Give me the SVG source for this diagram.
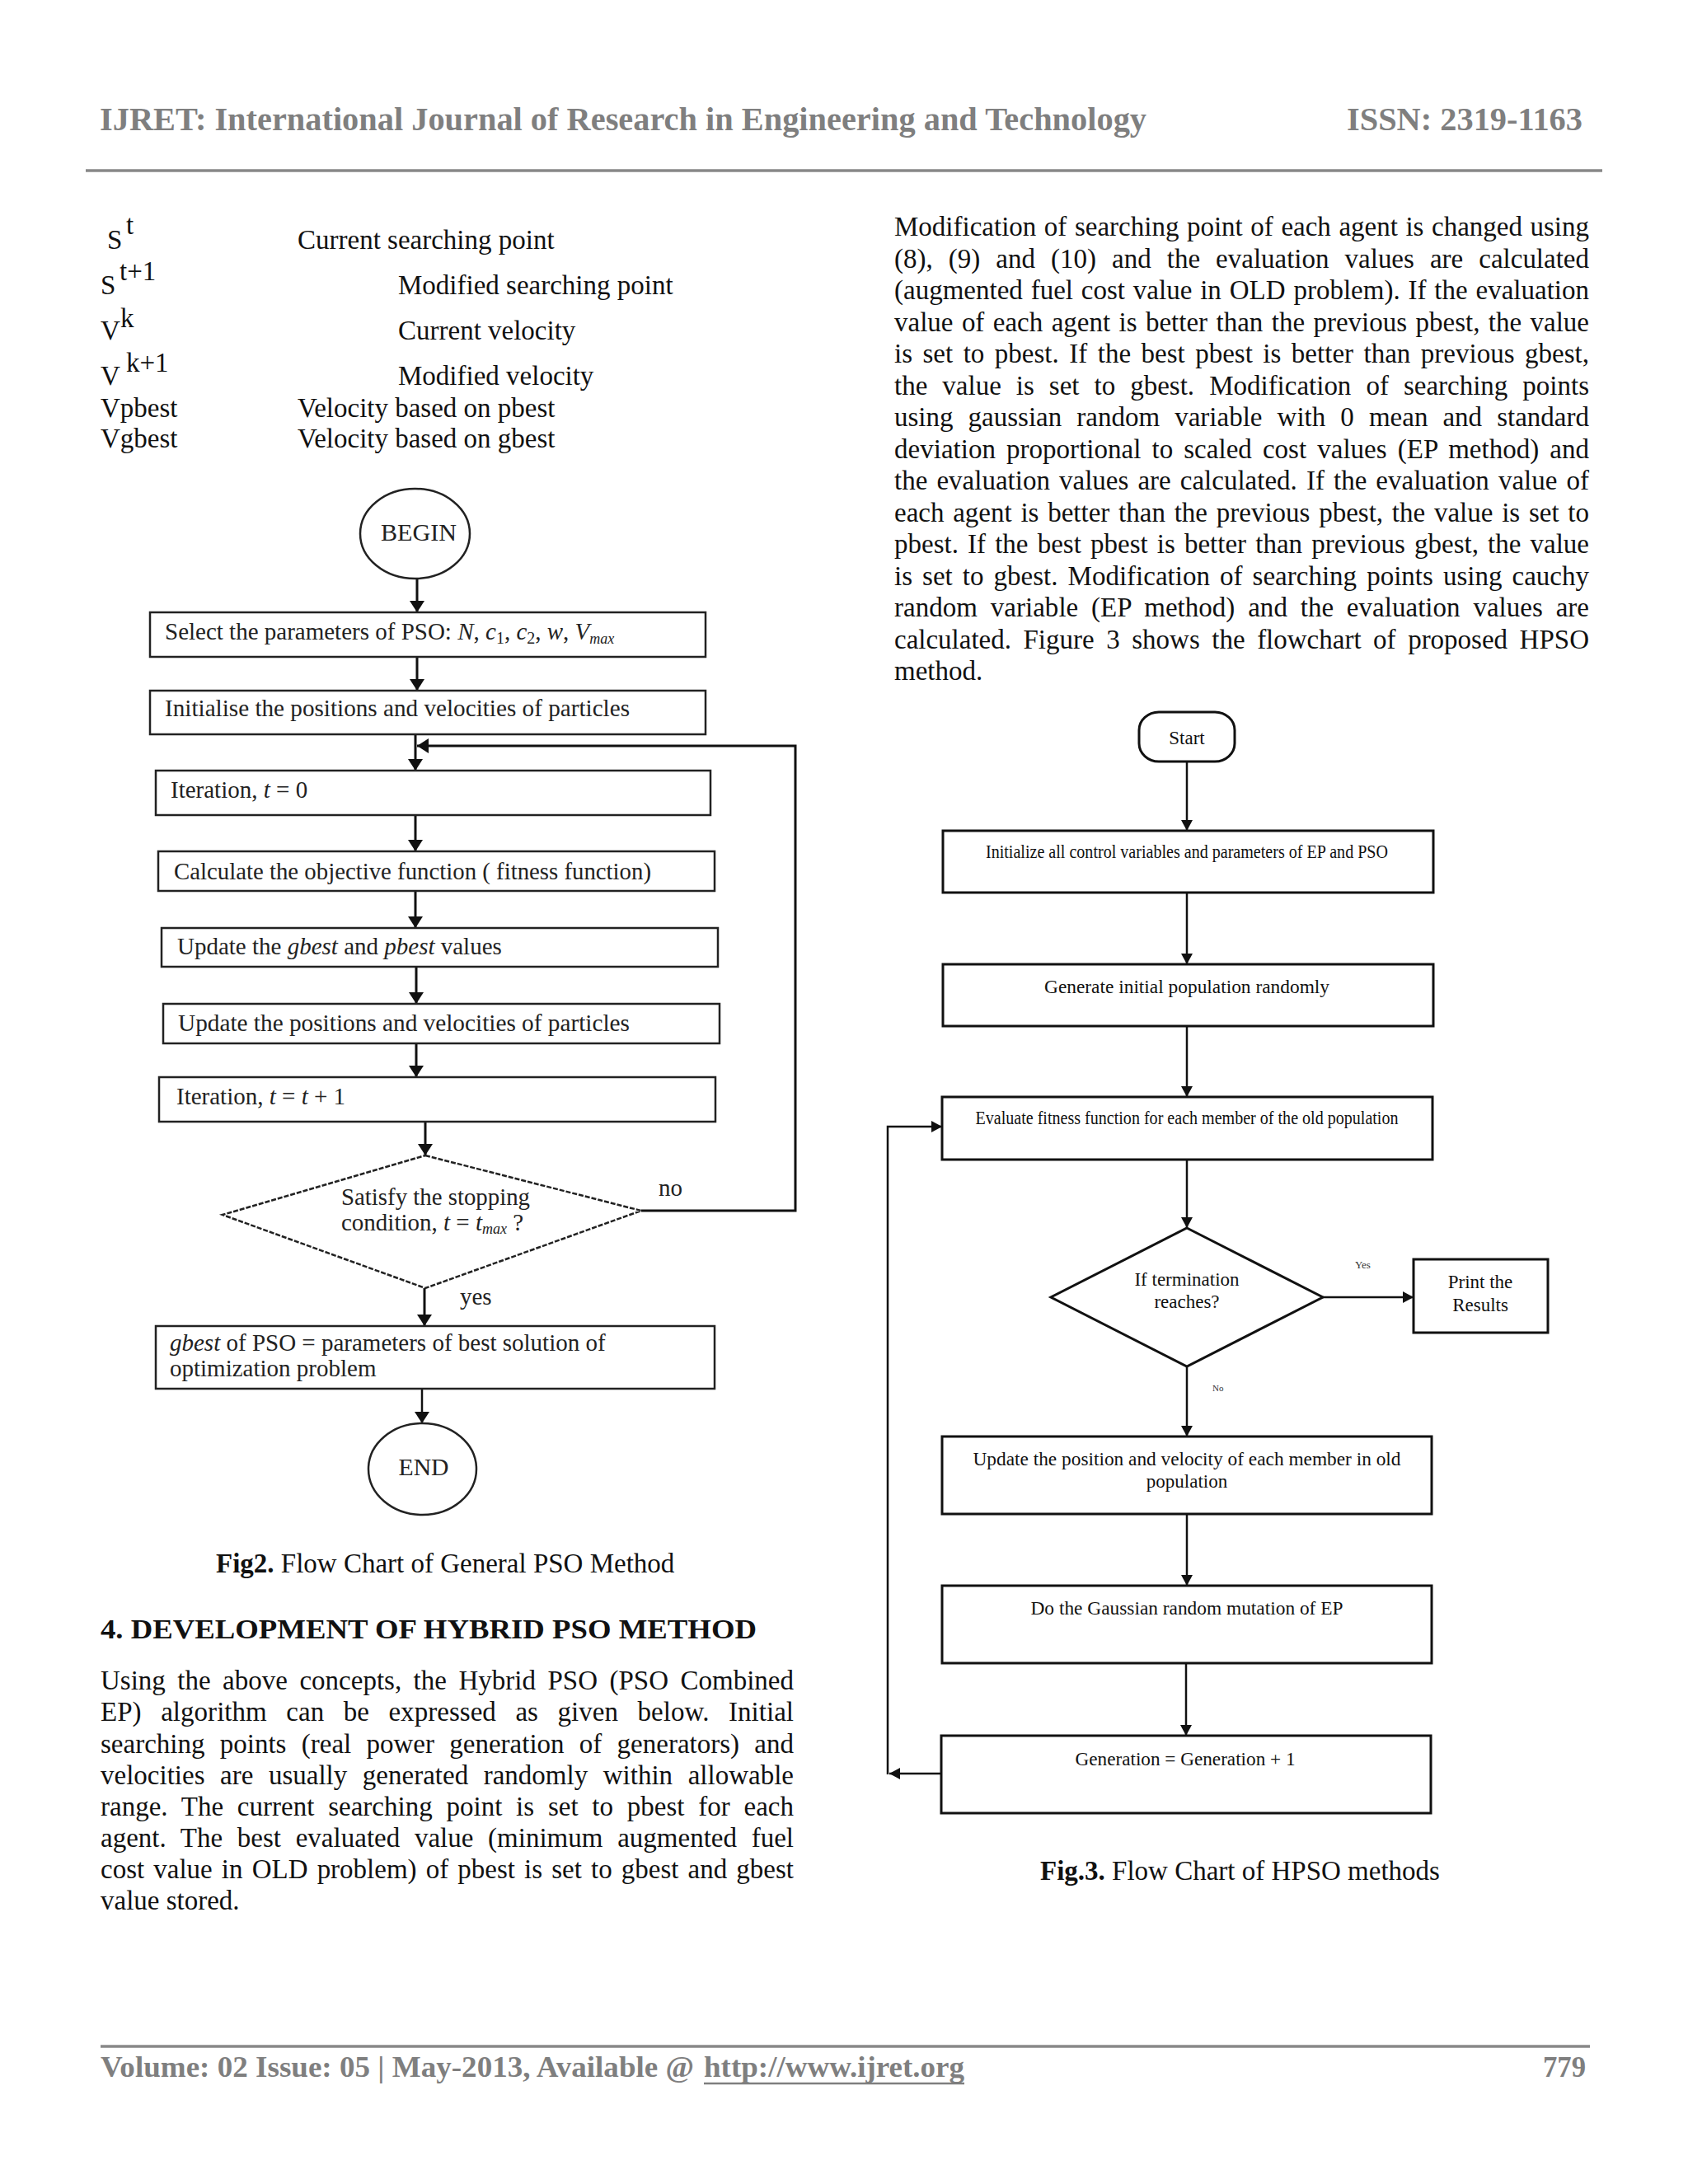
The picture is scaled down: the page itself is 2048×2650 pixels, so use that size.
<svg xmlns="http://www.w3.org/2000/svg" width="2048" height="2650" viewBox="0 0 2048 2650">
<style>
text{font-family:"Liberation Serif","Times New Roman",serif}
.hdr{font-weight:bold;fill:#7f7f7f}
.body{font-size:33px;fill:#111}
.b{font-weight:bold}
.i{font-style:italic}
.f1{font-size:29px;fill:#222}
.f2{font-size:23px;fill:#111}
.n1{fill:#fff;stroke:#222;stroke-width:2.5}
.n2{fill:#fff;stroke:#111;stroke-width:3}
.c1{stroke:#111;stroke-width:3;fill:none}
.c2{stroke:#111;stroke-width:2.5;fill:none}
.rule{stroke:#888;stroke-width:3.5}
</style>
<defs>
<marker id="ah1" markerUnits="userSpaceOnUse" markerWidth="14" markerHeight="18" viewBox="0 0 14 18" refX="14" refY="9" orient="auto"><path d="M0,0 L14,9 L0,18 z" fill="#111"/></marker>
<marker id="ah2" markerUnits="userSpaceOnUse" markerWidth="13" markerHeight="14" viewBox="0 0 13 14" refX="13" refY="7" orient="auto"><path d="M0,0 L13,7 L0,14 z" fill="#111"/></marker>
</defs>
<rect width="2048" height="2650" fill="#fff"/>

<!-- header / footer -->
<text class="hdr" x="121" y="158" font-size="40" textLength="1270" lengthAdjust="spacingAndGlyphs">IJRET: International Journal of Research in Engineering and Technology</text>
<text class="hdr" x="1634" y="158" font-size="40" textLength="286" lengthAdjust="spacingAndGlyphs">ISSN: 2319-1163</text>
<line class="rule" x1="104" y1="207" x2="1944" y2="207"/>
<line class="rule" x1="122" y1="2483" x2="1929" y2="2483"/>
<text class="hdr" x="122" y="2520" font-size="36" textLength="720" lengthAdjust="spacingAndGlyphs">Volume: 02 Issue: 05 | May-2013, Available @</text>
<text class="hdr" x="854" y="2520" font-size="36" textLength="316" lengthAdjust="spacingAndGlyphs">http://www.ijret.org</text>
<line x1="854" y1="2528" x2="1170" y2="2528" stroke="#7f7f7f" stroke-width="2.5"/>
<text class="hdr" x="1872" y="2520" font-size="36" textLength="52" lengthAdjust="spacingAndGlyphs">779</text>

<!-- legend -->
<g class="body">
<text x="130" y="302">S</text><text x="153" y="284">t</text>
<text x="361" y="302">Current searching point</text>
<text x="122" y="357">S</text><text x="145" y="340">t+1</text>
<text x="483" y="357">Modified searching point</text>
<text x="122" y="412">V</text><text x="146" y="397">k</text>
<text x="483" y="412">Current velocity</text>
<text x="122" y="467">V</text><text x="153" y="451">k+1</text>
<text x="483" y="467">Modified velocity</text>
<text x="122" y="506">Vpbest</text>
<text x="361" y="506">Velocity based on pbest</text>
<text x="122" y="543">Vgbest</text>
<text x="361" y="543">Velocity based on gbest</text>
</g>

<!-- Fig 2 connectors -->
<g id="fig2-connectors">
<path class="c1" d="M506,702 V743" marker-end="url(#ah1)"/>
<path class="c1" d="M506,797 V838" marker-end="url(#ah1)"/>
<path class="c1" d="M504,891 V935" marker-end="url(#ah1)"/>
<path class="c1" d="M778,1469 H965 V905 H506" marker-end="url(#ah1)"/>
<path class="c1" d="M504,989 V1033" marker-end="url(#ah1)"/>
<path class="c1" d="M504,1081 V1126" marker-end="url(#ah1)"/>
<path class="c1" d="M505,1173 V1218" marker-end="url(#ah1)"/>
<path class="c1" d="M505,1266 V1307" marker-end="url(#ah1)"/>
<path class="c1" d="M516,1361 V1402" marker-end="url(#ah1)"/>
<path class="c1" d="M515,1563 V1609" marker-end="url(#ah1)"/>
<path class="c2" d="M512,1685 V1727" stroke-width="1.8" marker-end="url(#ah1)"/>
<text class="f1" x="799" y="1451">no</text>
<text class="f1" x="558" y="1583">yes</text>
</g>

<!-- Fig 2 nodes -->
<g id="begin"><ellipse class="n1" cx="503.5" cy="647.5" rx="66.5" ry="54.5" stroke-width="2"/>
<text class="f1" x="508" y="656" text-anchor="middle" textLength="92" lengthAdjust="spacingAndGlyphs">BEGIN</text></g>
<g id="select"><rect class="n1" x="182" y="743" width="674" height="54"/>
<text class="f1" x="200" y="776">Select the parameters of PSO: <tspan class="i">N</tspan>, <tspan class="i">c</tspan><tspan font-size="20" dy="5">1</tspan><tspan dy="-5">, </tspan><tspan class="i">c</tspan><tspan font-size="20" dy="5">2</tspan><tspan dy="-5">, </tspan><tspan class="i">w</tspan>, <tspan class="i">V</tspan><tspan class="i" font-size="18" dy="5">max</tspan></text></g>
<g id="init"><rect class="n1" x="182" y="838" width="674" height="53"/>
<text class="f1" x="200" y="869" textLength="564" lengthAdjust="spacingAndGlyphs">Initialise the positions and velocities of particles</text></g>
<g id="iter0"><rect class="n1" x="189" y="935" width="673" height="54"/>
<text class="f1" x="207" y="968">Iteration, <tspan class="i">t</tspan> = 0</text></g>
<g id="calc"><rect class="n1" x="192" y="1033" width="675" height="48"/>
<text class="f1" x="211" y="1067" textLength="579" lengthAdjust="spacingAndGlyphs">Calculate the objective function ( fitness function)</text></g>
<g id="updbest"><rect class="n1" x="196" y="1126" width="675" height="47"/>
<text class="f1" x="215" y="1158">Update the <tspan class="i">gbest</tspan> and <tspan class="i">pbest</tspan> values</text></g>
<g id="updpos"><rect class="n1" x="198" y="1218" width="675" height="48"/>
<text class="f1" x="216" y="1251" textLength="548" lengthAdjust="spacingAndGlyphs">Update the positions and velocities of particles</text></g>
<g id="iter1"><rect class="n1" x="193" y="1307" width="675" height="54"/>
<text class="f1" x="214" y="1340">Iteration, <tspan class="i">t</tspan> = <tspan class="i">t</tspan> + 1</text></g>
<g id="stop"><polygon class="n1" points="516,1402 778,1469 516,1563 270,1474" stroke-width="2" stroke-dasharray="6 2"/>
<text class="f1" x="414" y="1462" textLength="229" lengthAdjust="spacingAndGlyphs">Satisfy the stopping</text>
<text class="f1" x="414" y="1493">condition, <tspan class="i">t</tspan> = <tspan class="i">t</tspan><tspan class="i" font-size="18" dy="4">max</tspan><tspan dy="-4"> ?</tspan></text></g>
<g id="result"><rect class="n1" x="189" y="1609" width="678" height="76"/>
<text class="f1" x="206" y="1639"><tspan class="i">gbest</tspan> of PSO = parameters of best solution of</text>
<text class="f1" x="206" y="1670">optimization problem</text></g>
<g id="end"><ellipse class="n1" cx="512.5" cy="1782.5" rx="65.5" ry="55.5" stroke-width="2"/>
<text class="f1" x="514" y="1790" text-anchor="middle" textLength="61" lengthAdjust="spacingAndGlyphs">END</text></g>

<!-- captions and paragraphs -->
<text class="body" x="262" y="1908"><tspan class="b">Fig2.</tspan> Flow Chart of General PSO Method</text>
<text class="body b" x="122" y="1988" textLength="796" lengthAdjust="spacingAndGlyphs">4. DEVELOPMENT OF HYBRID PSO METHOD</text>
<g class="body">
<text x="122" y="2050" word-spacing="6.2" textLength="841" lengthAdjust="spacing">Using the above concepts, the Hybrid PSO (PSO Combined</text>
<text x="122" y="2088" word-spacing="15.2" textLength="841" lengthAdjust="spacing">EP) algorithm can be expressed as given below. Initial</text>
<text x="122" y="2127" word-spacing="10" textLength="841" lengthAdjust="spacing">searching points (real power generation of generators) and</text>
<text x="122" y="2165" word-spacing="10.3" textLength="841" lengthAdjust="spacing">velocities are usually generated randomly within allowable</text>
<text x="122" y="2203" word-spacing="8.5" textLength="841" lengthAdjust="spacing">range. The current searching point is set to pbest for each</text>
<text x="122" y="2241" word-spacing="9.4" textLength="841" lengthAdjust="spacing">agent. The best evaluated value (minimum augmented fuel</text>
<text x="122" y="2279" word-spacing="2.9" textLength="841" lengthAdjust="spacing">cost value in OLD problem) of pbest is set to gbest and gbest</text>
<text x="122" y="2317">value stored.</text>
</g>
<g class="body">
<text x="1085" y="286" word-spacing="1.3" textLength="843" lengthAdjust="spacing">Modification of searching point of each agent is changed using</text>
<text x="1085" y="324.5" word-spacing="10.8" textLength="843" lengthAdjust="spacing">(8), (9) and (10) and the evaluation values are calculated</text>
<text x="1085" y="363" word-spacing="1.6" textLength="843" lengthAdjust="spacing">(augmented fuel cost value in OLD problem). If the evaluation</text>
<text x="1085" y="401.5" word-spacing="2.2" textLength="843" lengthAdjust="spacing">value of each agent is better than the previous pbest, the value</text>
<text x="1085" y="440" word-spacing="4.2" textLength="843" lengthAdjust="spacing">is set to pbest. If the best pbest is better than previous gbest,</text>
<text x="1085" y="478.5" word-spacing="9.8" textLength="843" lengthAdjust="spacing">the value is set to gbest. Modification of searching points</text>
<text x="1085" y="517" word-spacing="9.8" textLength="843" lengthAdjust="spacing">using gaussian random variable with 0 mean and standard</text>
<text x="1085" y="555.5" word-spacing="4.8" textLength="843" lengthAdjust="spacing">deviation proportional to scaled cost values (EP method) and</text>
<text x="1085" y="594" word-spacing="2.8" textLength="843" lengthAdjust="spacing">the evaluation values are calculated. If the evaluation value of</text>
<text x="1085" y="632.5" word-spacing="2.5" textLength="843" lengthAdjust="spacing">each agent is better than the previous pbest, the value is set to</text>
<text x="1085" y="671" word-spacing="2.9" textLength="843" lengthAdjust="spacing">pbest. If the best pbest is better than previous gbest, the value</text>
<text x="1085" y="709.5" word-spacing="3.8" textLength="843" lengthAdjust="spacing">is set to gbest. Modification of searching points using cauchy</text>
<text x="1085" y="748" word-spacing="7.5" textLength="843" lengthAdjust="spacing">random variable (EP method) and the evaluation values are</text>
<text x="1085" y="786.5" word-spacing="6.3" textLength="843" lengthAdjust="spacing">calculated. Figure 3 shows the flowchart of proposed HPSO</text>
<text x="1085" y="825">method.</text>
</g>
<text class="body" x="1262" y="2281"><tspan class="b">Fig.3.</tspan> Flow Chart of HPSO methods</text>

<!-- Fig 3 connectors -->
<g id="fig3-connectors">
<path class="c2" d="M1440,924 V1008" marker-end="url(#ah2)"/>
<path class="c2" d="M1440,1083 V1170" marker-end="url(#ah2)"/>
<path class="c2" d="M1440,1245 V1331" marker-end="url(#ah2)"/>
<path class="c2" d="M1440,1407 V1490" marker-end="url(#ah2)"/>
<path class="c2" d="M1605,1574 H1715" stroke-width="4.5" marker-end="url(#ah2)"/>
<path class="c2" d="M1440,1658 V1743" marker-end="url(#ah2)"/>
<path class="c2" d="M1440,1837 V1924" marker-end="url(#ah2)"/>
<path class="c2" d="M1439,2018 V2106" marker-end="url(#ah2)"/>
<path class="c2" d="M1142,2152 H1079" stroke-width="4.5" marker-end="url(#ah2)"/>
<path class="c2" d="M1077,2153 V1367 H1143" marker-end="url(#ah2)"/>
<text x="1644" y="1539" font-size="13" fill="#333">Yes</text>
<text x="1471" y="1688" font-size="11" fill="#333">No</text>
</g>

<!-- Fig 3 nodes -->
<g id="start"><rect class="n2" x="1382" y="864" width="116" height="60" rx="24" ry="22"/>
<text class="f2" x="1440" y="903" text-anchor="middle">Start</text></g>
<g id="initall"><rect class="n2" x="1144" y="1008" width="595" height="75"/>
<text class="f2" x="1440" y="1041" font-size="20" text-anchor="middle" textLength="488" lengthAdjust="spacingAndGlyphs">Initialize all control variables and parameters of EP and PSO</text></g>
<g id="genpop"><rect class="n2" x="1144" y="1170" width="595" height="75"/>
<text class="f2" x="1440" y="1205" text-anchor="middle" textLength="346" lengthAdjust="spacingAndGlyphs">Generate initial population randomly</text></g>
<g id="evaluate"><rect class="n2" x="1143" y="1331" width="595" height="76"/>
<text class="f2" x="1440" y="1364" font-size="20" text-anchor="middle" textLength="513" lengthAdjust="spacingAndGlyphs">Evaluate fitness function for each member of the old population</text></g>
<g id="terminate"><polygon class="n2" points="1440,1490 1605,1574 1440,1658 1275,1574" stroke-width="2.5"/>
<text class="f2" x="1440" y="1560" text-anchor="middle">If termination</text>
<text class="f2" x="1440" y="1587" text-anchor="middle">reaches?</text></g>
<g id="print"><rect class="n2" x="1715" y="1528" width="163" height="89"/>
<text class="f2" x="1796" y="1563" text-anchor="middle">Print the</text>
<text class="f2" x="1796" y="1591" text-anchor="middle">Results</text></g>
<g id="update"><rect class="n2" x="1143" y="1743" width="594" height="94"/>
<text class="f2" x="1440" y="1778" text-anchor="middle" textLength="519" lengthAdjust="spacingAndGlyphs">Update the position and velocity of each member in old</text>
<text class="f2" x="1440" y="1805" text-anchor="middle">population</text></g>
<g id="mutate"><rect class="n2" x="1143" y="1924" width="594" height="94"/>
<text class="f2" x="1440" y="1959" text-anchor="middle" textLength="379" lengthAdjust="spacingAndGlyphs">Do the Gaussian random mutation of EP</text></g>
<g id="generation"><rect class="n2" x="1142" y="2106" width="594" height="94"/>
<text class="f2" x="1438" y="2142" text-anchor="middle" textLength="267" lengthAdjust="spacingAndGlyphs">Generation = Generation + 1</text></g>
</svg>
